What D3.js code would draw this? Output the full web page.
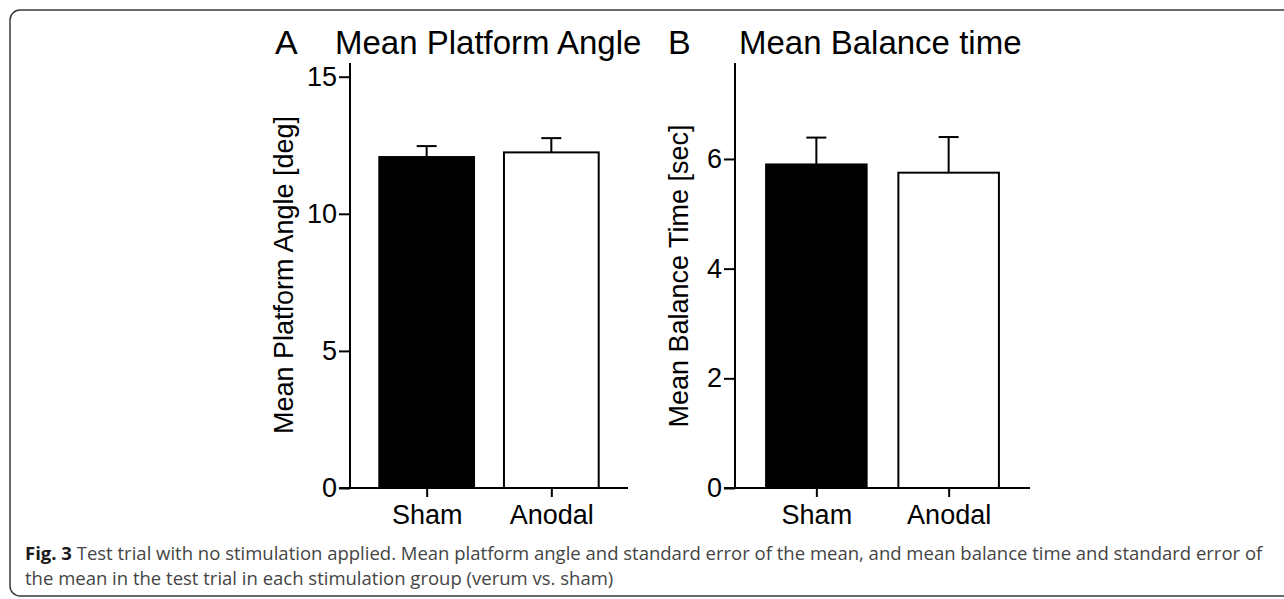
<!DOCTYPE html>
<html>
<head>
<meta charset="utf-8">
<script src="https://cdn.jsdelivr.net/npm/d3@7"></script>
<style>
  html, body { margin: 0; padding: 0; background: #fff; }
  svg { display: block; }
</style>
</head>
<body>
<svg id="fig" width="1284" height="599"></svg>
<script>
// Groups and summary statistics (mean, SEM) per panel
const groups = ["Sham", "Anodal"];
const angleMeans = [12.07, 12.24];
const angleSem = [0.40, 0.52];
const timeMeans = [5.90, 5.75];
const timeSem = [0.49, 0.65];
const angleTicks = [0, 5, 10, 15];
const timeTicks = [0, 2, 4, 6];
const fills = ["#000000", "#ffffff"];

const svg = d3.select("#fig");
const axisFont = "'Liberation Sans', Arial, Helvetica, sans-serif";

// Rounded figure frame
svg.append("rect")
  .attr("x", 10).attr("y", 10)
  .attr("width", 1300).attr("height", 586)
  .attr("rx", 10).attr("ry", 10)
  .attr("fill", "none")
  .attr("stroke", "#3a3a3a")
  .attr("stroke-width", 1.5);

function panel(opts) {
  const g = svg.append("g");
  const y = d3.scaleLinear().domain([0, opts.yMax]).range([488, 63]);
  const x = d3.scalePoint().domain(groups).range([opts.x0, opts.x1]).padding(0.615);
  const bw = x.step() * 0.76;

  // Bars
  g.selectAll("rect.bar").data(groups).enter().append("rect")
    .attr("class", "bar")
    .attr("x", d => x(d) - bw / 2)
    .attr("y", (d, i) => y(opts.means[i]))
    .attr("width", bw)
    .attr("height", (d, i) => y(0) - y(opts.means[i]))
    .attr("fill", (d, i) => fills[i])
    .attr("stroke", "#000")
    .attr("stroke-width", 2);

  // Upper error bars (SEM)
  const capW = 20;
  groups.forEach((d, i) => {
    const cx = x(d);
    const top = y(opts.means[i] + opts.sem[i]);
    g.append("line")
      .attr("x1", cx).attr("x2", cx)
      .attr("y1", y(opts.means[i])).attr("y2", top)
      .attr("stroke", "#000").attr("stroke-width", 2);
    g.append("line")
      .attr("x1", cx - capW / 2).attr("x2", cx + capW / 2)
      .attr("y1", top).attr("y2", top)
      .attr("stroke", "#000").attr("stroke-width", 2);
  });

  // Y axis
  const ya = g.append("g")
    .attr("transform", `translate(${opts.x0},0)`)
    .call(d3.axisLeft(y).tickValues(opts.ticks).tickSize(11).tickPadding(2).tickFormat(d3.format("d")));
  ya.select(".domain").attr("d", `M0,${y(opts.yMax)}V${y(0)}`).attr("stroke-width", 2);
  ya.selectAll(".tick line").attr("stroke-width", 2);
  ya.selectAll("text").attr("font-family", axisFont).attr("font-size", 27).attr("fill", "#000");

  // X axis
  const xa = g.append("g")
    .attr("transform", `translate(0,${y(0)})`)
    .call(d3.axisBottom(x).tickSize(9).tickPadding(8));
  xa.select(".domain").attr("d", `M${opts.x0 - 11},0H${opts.x1}`).attr("stroke-width", 2);
  xa.selectAll(".tick line").attr("stroke-width", 2);
  xa.selectAll("text").attr("font-family", axisFont).attr("font-size", 27).attr("fill", "#000");

  // Y axis title
  g.append("text")
    .attr("transform", `translate(${opts.labelX},${opts.labelY}) rotate(-90)`)
    .attr("text-anchor", "middle")
    .attr("font-family", axisFont)
    .attr("font-size", 27)
    .text(opts.yLabel);

  // Panel letter and title
  g.append("text")
    .attr("x", opts.letterX).attr("y", 54)
    .attr("font-family", axisFont).attr("font-size", 34)
    .text(opts.letter);
  g.append("text")
    .attr("x", opts.titleX).attr("y", 54)
    .attr("font-family", axisFont).attr("font-size", 33)
    .text(opts.title);
}

panel({
  x0: 350, x1: 628, yMax: 15.5, ticks: angleTicks,
  means: angleMeans, sem: angleSem,
  yLabel: "Mean Platform Angle [deg]", labelX: 293, labelY: 275,
  letter: "A", letterX: 275, title: "Mean Platform Angle", titleX: 335
});

panel({
  x0: 735, x1: 1030, yMax: 7.75, ticks: timeTicks,
  means: timeMeans, sem: timeSem,
  yLabel: "Mean Balance Time [sec]", labelX: 688, labelY: 276,
  letter: "B", letterX: 668, title: "Mean Balance time", titleX: 739
});

// Caption
const capFont = "'Open Sans', 'Noto Sans', sans-serif";
const cap1 = svg.append("text")
  .attr("x", 25).attr("y", 560)
  .attr("font-family", capFont).attr("font-size", 18.5).attr("fill", "#444");
cap1.append("tspan").attr("font-weight", "bold").attr("fill", "#1a1a1a").text("Fig. 3");
cap1.append("tspan").text(" Test trial with no stimulation applied. Mean platform angle and standard error of the mean, and mean balance time and standard error of");
svg.append("text")
  .attr("x", 25).attr("y", 585)
  .attr("font-family", capFont).attr("font-size", 18.5).attr("fill", "#444")
  .text("the mean in the test trial in each stimulation group (verum vs. sham)");
</script>
</body>
</html>
